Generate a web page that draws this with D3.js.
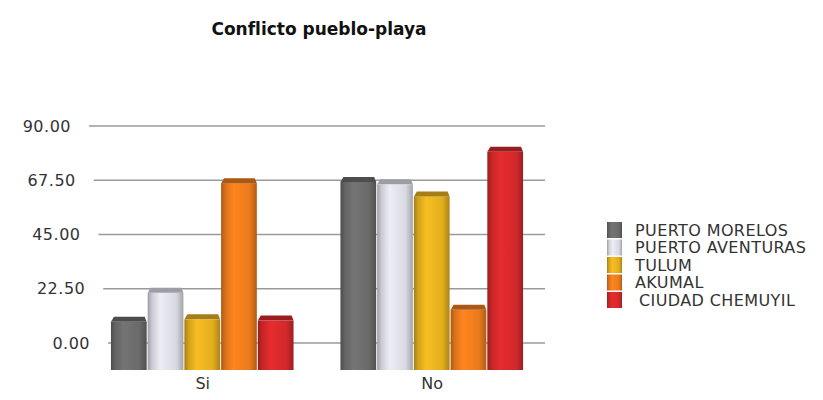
<!DOCTYPE html>
<html lang="es">
  <head>
    <meta charset="UTF-8" />
    <title>Conflicto pueblo-playa</title>
    <style>
      body {
        margin: 0;
        background: #fff;
      }
      text {
        font-family: "DejaVu Sans", Verdana, sans-serif;
        fill: #333;
      }
      .title {
        font-weight: bold;
        font-size: 17px;
        fill: #111;
      }
      .grid line {
        stroke: #9a9a9a;
        stroke-width: 1.5;
      }
    </style>
    <script src="https://cdn.jsdelivr.net/npm/d3@7"></script>
  </head>
  <body>
    <div id="chart"></div>
    <script>
      const categories = ["Si", "No"];
      const series = [
        "PUERTO MORELOS",
        "PUERTO AVENTURAS",
        "TULUM",
        "AKUMAL",
        "CIUDAD CHEMUYIL",
      ];
      // values per series, in order Si, No
      const puertoMorelos = [20, 78];
      const puertoAventuras = [32, 77];
      const tulum = [21, 72];
      const akumal = [77.5, 25];
      const ciudadChemuyil = [20.5, 90.5];
      const tickValues = [0, 22.5, 45, 67.5, 90];

      const values = [puertoMorelos, puertoAventuras, tulum, akumal, ciudadChemuyil];
      const colors = ["#6a6a6a", "#d9d9e2", "#e3ae1e", "#ea7a1c", "#d3282a"];

      const W = 823,
        H = 400;
      const floor = 27; // front of the floor sits this far below the back wall

      const svg = d3
        .select("#chart")
        .append("svg")
        .attr("width", W)
        .attr("height", H);

      const defs = svg.append("defs");
      colors.forEach((c, i) => {
        const g = defs
          .append("linearGradient")
          .attr("id", "grad" + i)
          .attr("x1", "0%")
          .attr("x2", "100%");
        const base = d3.color(c);
        g.append("stop").attr("offset", "0%").attr("stop-color", base.darker(0.9));
        g.append("stop").attr("offset", "12%").attr("stop-color", base.darker(0.2));
        g.append("stop").attr("offset", "35%").attr("stop-color", base.brighter(0.25));
        g.append("stop").attr("offset", "80%").attr("stop-color", base);
        g.append("stop").attr("offset", "100%").attr("stop-color", base.darker(0.8));
      });

      // scales
      const x0 = d3
        .scaleBand()
        .domain(categories)
        .range([88, 547])
        .paddingInner(0.2)
        .paddingOuter(0.1);
      const x1 = d3.scaleBand().domain(series).range([0, x0.bandwidth()]);
      const y = d3.scaleLinear().domain([0, 90]).range([343, 126]);
      // back wall leans in perspective
      const wallLeft = d3.scaleLinear().domain([0, 90]).range([108, 89]);

      // title
      svg
        .append("text")
        .attr("class", "title")
        .attr("x", 319)
        .attr("y", 35)
        .attr("text-anchor", "middle")
        .text("Conflicto pueblo-playa");

      // gridlines + tick labels
      const grid = svg.append("g").attr("class", "grid");
      grid
        .selectAll("line")
        .data(tickValues)
        .join("line")
        .attr("x1", (d) => wallLeft(d))
        .attr("x2", 545)
        .attr("y1", (d) => y(d))
        .attr("y2", (d) => y(d));
      svg
        .append("g")
        .selectAll("text")
        .data(tickValues)
        .join("text")
        .attr("x", (d) => wallLeft(d) - 18)
        .attr("y", (d) => y(d))
        .attr("dy", "0.35em")
        .attr("text-anchor", "end")
        .style("font-size", "16px")
        .style("letter-spacing", "0.5px")
        .text((d) => d3.format(".2f")(d));

      // bars
      const rows = [];
      categories.forEach((cat, ci) => {
        series.forEach((s, si) => {
          rows.push({ cat, s, si, v: values[si][ci] });
        });
      });

      const bars = svg
        .append("g")
        .selectAll("g")
        .data(rows)
        .join("g")
        .attr("transform", (d) => `translate(${x0(d.cat) + x1(d.s)},0)`);

      const bw = x1.bandwidth() - 1;
      const bottom = y(0) + floor;

      bars
        .append("rect")
        .attr("x", 0)
        .attr("y", (d) => y(d.v) + floor)
        .attr("width", bw)
        .attr("height", (d) => bottom - (y(d.v) + floor))
        .attr("fill", (d) => `url(#grad${d.si})`);

      bars
        .append("path")
        .attr("d", (d) => {
          const t = y(d.v) + floor;
          return `M0,${t} L3,${t - 5} L${bw - 2},${t - 5} L${bw},${t} Z`;
        })
        .attr("fill", (d) => d3.color(colors[d.si]).darker(0.9));

      // category labels
      svg
        .append("g")
        .selectAll("text")
        .data(categories)
        .join("text")
        .attr("x", (d) => x0(d) + x0.bandwidth() / 2)
        .attr("y", 389)
        .attr("text-anchor", "middle")
        .style("font-size", "16px")
        .text((d) => d);

      // legend
      const legend = svg
        .append("g")
        .selectAll("g")
        .data(series)
        .join("g")
        .attr("transform", (d, i) => `translate(607,${222 + i * 17.5})`);
      legend
        .append("rect")
        .attr("width", 15)
        .attr("height", 16)
        .attr("fill", (d, i) => `url(#grad${i})`);
      legend
        .append("text")
        .attr("x", (d, i) => (i === 4 ? 32 : 28))
        .attr("y", 8)
        .attr("dy", "0.35em")
        .style("font-size", "16px")
        .style("letter-spacing", "0.4px")
        .text((d) => d);
    </script>
  </body>
</html>
